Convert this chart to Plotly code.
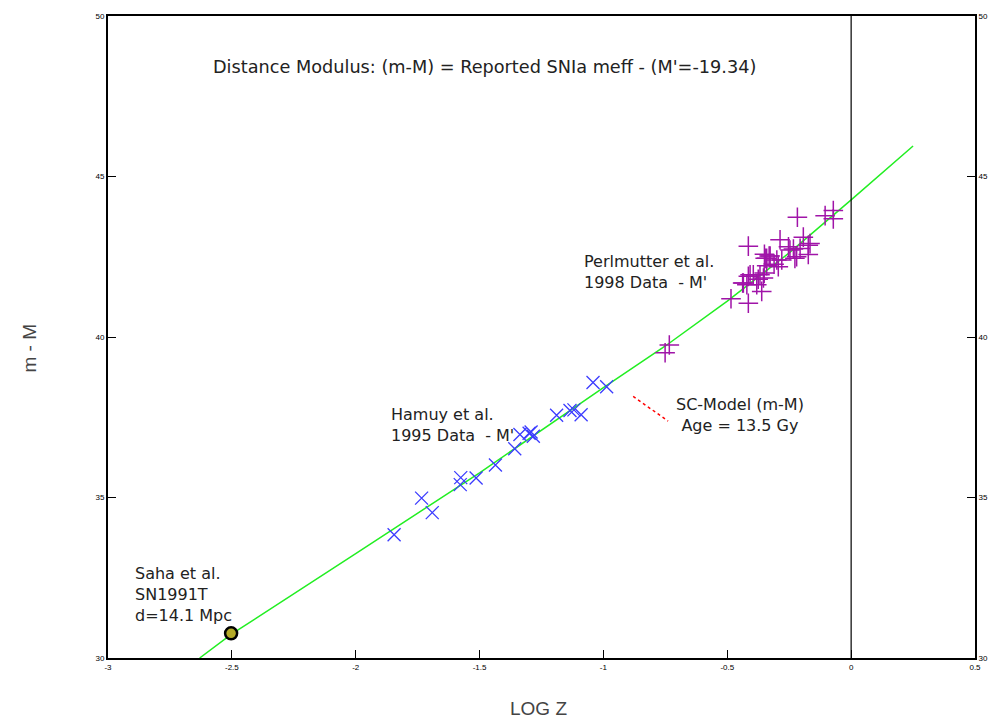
import plotly.graph_objects as go

# ---- data ----
model_logz = [-2.63, -2.5, -2.0, -1.5, -1.0, -0.75, -0.5, -0.25, 0.0, 0.25]
model_mM = [30.0, 30.75, 33.25, 35.77, 38.42, 39.72, 41.12, 42.62, 44.27, 45.95]

hamuy_logz = [-1.845, -1.734, -1.691, -1.576, -1.578, -1.514, -1.436, -1.358, -1.337,
              -1.292, -1.283, -1.300, -1.189, -1.135, -1.119, -1.090, -1.042, -0.987]
hamuy_mM = [33.84, 34.98, 34.53, 35.62, 35.40, 35.61, 36.01, 36.52, 36.96,
            37.04, 36.91, 37.00, 37.56, 37.71, 37.73, 37.58, 38.58, 38.45]

perl_logz = [-0.751, -0.734, -0.485, -0.415, -0.415, -0.438, -0.415, -0.395, -0.381,
             -0.361, -0.354, -0.327, -0.347, -0.287, -0.294, -0.247, -0.227, -0.206,
             -0.193, -0.173, -0.166, -0.217, -0.105, -0.072, -0.072, -0.173, -0.220,
             -0.233, -0.253, -0.331, -0.341, -0.350, -0.300, -0.280, -0.311, -0.341,
             -0.351, -0.368, -0.408, -0.435, -0.375, -0.421]
perl_mM = [39.51, 39.75, 41.19, 41.05, 42.83, 41.68, 41.89, 41.94, 41.63,
           41.42, 41.84, 42.52, 42.45, 43.03, 42.19, 42.71, 42.45, 42.76,
           43.11, 42.57, 42.91, 43.73, 43.78, 43.94, 43.68, 42.86, 42.50,
           42.74, 42.81, 42.52, 42.45, 42.58, 42.40, 42.40, 42.27, 42.22,
           41.99, 41.94, 41.94, 41.68, 41.80, 41.63]

saha_logz = [-2.503]
saha_mM = [30.77]

x_ticks = [-3, -2.5, -2, -1.5, -1, -0.5, 0, 0.5]
x_ticklabels = ["-3", "-2.5", "-2", "-1.5", "-1", "-0.5", "0", "0.5"]
y_ticks = [30, 35, 40, 45, 50]

FONT = "Liberation Sans, Arial, sans-serif"
LFONT = "DejaVu Sans, Liberation Sans, sans-serif"
TXT = "#222222"

fig = go.Figure()

fig.add_trace(go.Scatter(x=model_logz, y=model_mM, mode="lines",
                         line=dict(color="#22ee22", width=1.5), showlegend=False,
                         hoverinfo="skip"))
fig.add_trace(go.Scatter(x=hamuy_logz, y=hamuy_mM, mode="markers",
                         marker=dict(symbol="x-thin-open", size=13, color="#3c3cff",
                                     line=dict(color="#3c3cff", width=1.3)),
                         showlegend=False))
fig.add_trace(go.Scatter(x=perl_logz, y=perl_mM, mode="markers",
                         marker=dict(symbol="cross-thin-open", size=14, color="#a014a8",
                                     line=dict(color="#a014a8", width=1.5)),
                         showlegend=False))
fig.add_trace(go.Scatter(x=saha_logz, y=saha_mM, mode="markers",
                         marker=dict(symbol="circle", size=12, color="#b4aa28",
                                     line=dict(color="black", width=2.5)),
                         showlegend=False))
# invisible trace to activate right axis
fig.add_trace(go.Scatter(x=saha_logz, y=saha_mM, yaxis="y2", mode="markers",
                         marker=dict(opacity=0), showlegend=False, hoverinfo="skip"))

axis_common = dict(showgrid=False, zeroline=False, showline=True, linecolor="black",
                   linewidth=2, ticks="inside", ticklen=8, tickwidth=1, tickcolor="black",
                   tickfont=dict(family=FONT, size=8, color="black"))

fig.update_layout(
    width=1000, height=723,
    margin=dict(l=100, r=33, t=4, b=73),
    paper_bgcolor="white", plot_bgcolor="white",
    xaxis=dict(range=[-3, 0.5], tickvals=x_ticks, ticktext=x_ticklabels,
               mirror=True, **axis_common),
    yaxis=dict(range=[30, 50], tickvals=y_ticks, mirror=True, **axis_common),
    yaxis2=dict(range=[30, 50], tickvals=y_ticks, overlaying="y", side="right",
                **axis_common),
    shapes=[
        dict(type="line", x0=0, x1=0, y0=30, y1=50, xref="x", yref="y",
             line=dict(color="black", width=1.2)),
        dict(type="line", x0=-0.880, y0=38.15, x1=-0.739, y1=37.38, xref="x", yref="y",
             line=dict(color="red", width=1.5, dash="dot")),
    ],
    annotations=[
        dict(text="Distance Modulus: (m-M) = Reported SNIa meff - (M'=-19.34)",
             x=-1.482, y=48.4, xref="x", yref="y", showarrow=False,
             font=dict(family=LFONT, size=17.7, color=TXT)),
        dict(text="Perlmutter et al.<br>1998 Data  - M'", x=-1.086, y=42.03,
             xref="x", yref="y", xanchor="left", yanchor="middle", align="left",
             showarrow=False, font=dict(family=LFONT, size=16, color=TXT)),
        dict(text="Hamuy et al.<br>1995 Data  - M'", x=-1.866, y=37.25,
             xref="x", yref="y", xanchor="left", yanchor="middle", align="left",
             showarrow=False, font=dict(family=LFONT, size=16, color=TXT)),
        dict(text="SC-Model (m-M)<br>Age = 13.5 Gy", x=-0.449, y=37.57,
             xref="x", yref="y", xanchor="center", yanchor="middle", align="center",
             showarrow=False, font=dict(family=LFONT, size=16, color=TXT)),
        dict(text="Saha et al.<br>SN1991T<br>d=14.1 Mpc", x=-2.899, y=31.97,
             xref="x", yref="y", xanchor="left", yanchor="middle", align="left",
             showarrow=False, font=dict(family=LFONT, size=16, color=TXT)),
        dict(text="m - M", x=0, y=0.482, xref="paper", yref="paper", xshift=-78,
             xanchor="center", yanchor="middle",
             textangle=-90, showarrow=False,
             font=dict(family=FONT, size=19, color="#444444")),
        dict(text="LOG Z", x=0.496, y=0, xref="paper", yref="paper", yshift=-50,
             xanchor="center", yanchor="middle",
             showarrow=False, font=dict(family=FONT, size=19, color="#444444")),
    ],
)

fig.write_html("out.html")
